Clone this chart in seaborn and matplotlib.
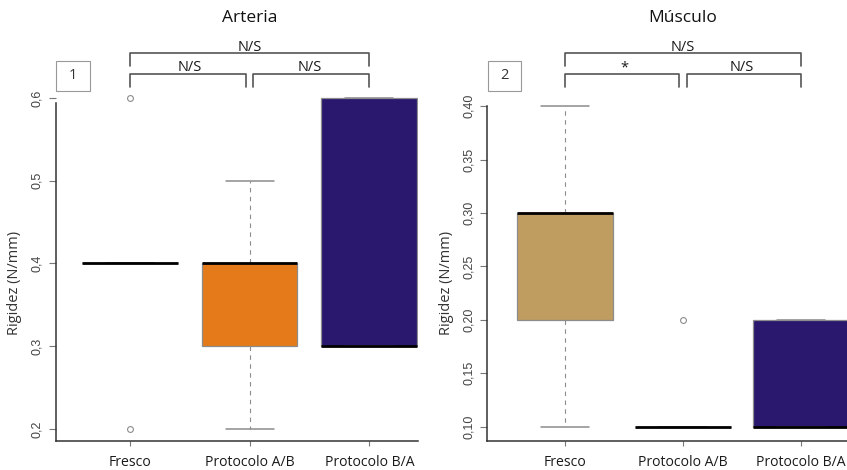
import numpy as np
import pandas as pd
import matplotlib
matplotlib.use("Agg")
import matplotlib.pyplot as plt
from matplotlib.patches import Rectangle
from matplotlib.ticker import FuncFormatter
import seaborn as sns

# ---------------- data ----------------
categories = ["Fresco", "Protocolo A/B", "Protocolo B/A"]

arteria_fresco = [0.2, 0.4, 0.4, 0.4, 0.4, 0.4, 0.6]
arteria_ab = [0.2, 0.3, 0.3, 0.4, 0.4, 0.4, 0.5]
arteria_ba = [0.3, 0.3, 0.3, 0.3, 0.6, 0.6, 0.6]

musculo_fresco = [0.1, 0.2, 0.2, 0.3, 0.3, 0.3, 0.4]
musculo_ab = [0.1, 0.1, 0.1, 0.1, 0.1, 0.1, 0.2]
musculo_ba = [0.1, 0.1, 0.1, 0.1, 0.2, 0.2, 0.2]

titles = ["Arteria", "Músculo"]
panel_labels = ["1", "2"]
y_label = "Rigidez (N/mm)"
yticks_arteria = [0.2, 0.3, 0.4, 0.5, 0.6]
yticks_musculo = [0.10, 0.15, 0.20, 0.25, 0.30, 0.35, 0.40]
sig_arteria = ["N/S", "N/S", "N/S"]   # top (1-3), left (1-2), right (2-3)
sig_musculo = ["N/S", "*", "N/S"]

colors_arteria = ["#FFFFFF", "#E57A1A", "#2A186E"]
colors_musculo = ["#BF9C60", "#FFFFFF", "#2A186E"]


def long_df(groups):
    rows = []
    for cat, vals in zip(categories, groups):
        for v in vals:
            rows.append((cat, v))
    return pd.DataFrame(rows, columns=["grupo", "valor"])


df_art = long_df([arteria_fresco, arteria_ab, arteria_ba])
df_mus = long_df([musculo_fresco, musculo_ab, musculo_ba])

# ---------------- figure ----------------
sns.set_theme(style="white")
plt.rcParams["font.family"] = ["Open Sans", "DejaVu Sans"]

W, H = 847, 470
fig = plt.figure(figsize=(W / 100, H / 100), dpi=100)

ax_bottom_px = 440.5
ax_top_px = 84.0
ax1 = fig.add_axes([55.7 / W, (H - ax_bottom_px) / H, (418 - 55.7) / W,
                    (ax_bottom_px - ax_top_px) / H])
ax2 = fig.add_axes([487.3 / W, (H - ax_bottom_px) / H, (847 - 487.3) / W,
                    (ax_bottom_px - ax_top_px) / H])

GRAY = "#8c8c8c"
TXT = "#1a1a1a"
specs = [
    (ax1, df_art, colors_arteria, yticks_arteria, (0.1861, 0.6167), (-0.618, 2.406),
     "{:.1f}", sig_arteria, titles[0], panel_labels[0], 0.594, 0.8),
    (ax2, df_mus, colors_musculo, yticks_musculo, (0.0871, 0.4207), (-0.658, 2.39),
     "{:.2f}", sig_musculo, titles[1], panel_labels[1], 0.40, 0.81),
]

for (ax, df, cols, yt, ylim, xlim, fmt, sig, title, plab, spine_top, bw) in specs:
    sns.boxplot(
        data=df, x="grupo", y="valor", hue="grupo", order=categories,
        hue_order=categories, palette=cols, saturation=1, legend=False, width=bw,
        whis=1.5, linecolor=GRAY, linewidth=0.9, fliersize=4.2, ax=ax,
        boxprops=dict(edgecolor=GRAY, linewidth=0.9),
        whiskerprops=dict(color=GRAY, linestyle=(0, (4, 4)), linewidth=0.8),
        capprops=dict(color=GRAY, linewidth=1.1),
        medianprops=dict(color="black", linewidth=2.0),
        flierprops=dict(marker="o", markerfacecolor="none",
                        markeredgecolor=GRAY, markeredgewidth=0.8),
    )
    ax.set_xlim(*xlim)
    ax.set_ylim(*ylim)
    ax.set_xlabel("")
    ax.set_ylabel(y_label, fontsize=10.5, color="#333333")
    ax.yaxis.set_label_coords(-0.093, 0.443)

    for s in ["top", "right"]:
        ax.spines[s].set_visible(False)
    for s in ["left", "bottom"]:
        ax.spines[s].set_color("#333333")
        ax.spines[s].set_linewidth(1.1)
    ax.spines["left"].set_bounds(ylim[0], spine_top)

    ax.set_yticks(yt)
    ax.yaxis.set_major_formatter(FuncFormatter(lambda v, p, f=fmt: f.format(v).replace(".", ",")))
    ax.tick_params(axis="y", left=True, length=4.8, width=0.8, color="#777777",
                   pad=4.0, labelsize=9, labelcolor="#444444")
    for lab in ax.get_yticklabels():
        lab.set_rotation(90)
        lab.set_va("center")
        lab.set_ha("right")
        lab.set_family(["Liberation Sans", "DejaVu Sans"])

    ax.set_xticks(range(len(categories)))
    ax.set_xticklabels(categories)
    ax.tick_params(axis="x", bottom=True, length=3.6, width=0.8, color="#777777",
                   pad=7.0, labelsize=10.1, labelcolor=TXT)
    ax.grid(False)

    # significance brackets
    tr = ax.get_xaxis_transform()
    bc = "#555555"
    blw = 1.2
    # top bracket: first to last group
    ax.plot([0, 0, 2, 2], [1.0505, 1.0877, 1.0877, 1.0505], transform=tr,
            color=bc, lw=blw, clip_on=False)
    ax.text(1, 1.0926, sig[0], transform=tr, ha="center", va="baseline",
            fontsize=10.5, color=TXT)
    # lower-left bracket
    ax.plot([0, 0, 1 - 0.03, 1 - 0.03], [0.9907, 1.0283, 1.0283, 0.9907],
            transform=tr, color=bc, lw=blw, clip_on=False)
    ax.text(0.5, 1.0365, sig[1], transform=tr, ha="center", va="baseline",
            fontsize=10.5, color=TXT)
    # lower-right bracket
    ax.plot([1 + 0.03, 1 + 0.03, 2, 2], [0.9907, 1.0283, 1.0283, 0.9907],
            transform=tr, color=bc, lw=blw, clip_on=False)
    ax.text(1.5, 1.0365, sig[2], transform=tr, ha="center", va="baseline",
            fontsize=10.5, color=TXT)

    # title
    ax.text(1, 1.184, title, transform=tr, ha="center", va="center",
            fontsize=12.5, color="#111111")

    # panel label box
    ax.add_patch(Rectangle((0.002, 0.981), 0.093, 0.0835, transform=ax.transAxes,
                           fill=False, edgecolor="#999999", lw=0.8, clip_on=False))
    ax.text(0.0485, 1.0228, plab, transform=ax.transAxes, ha="center", va="center",
            fontsize=10.5, color="#333333")

fig.savefig("out.png", dpi=100)
